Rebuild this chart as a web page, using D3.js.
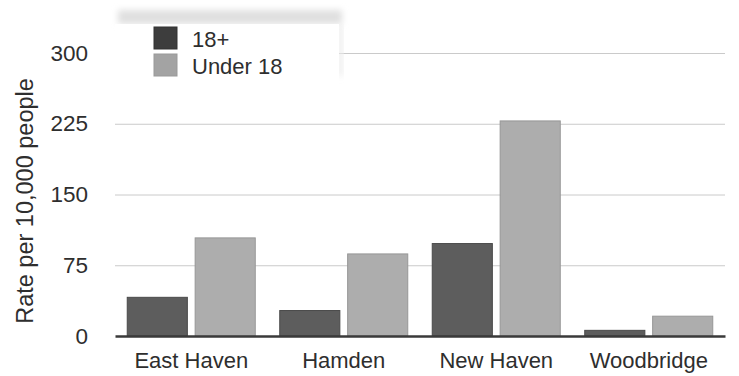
<!DOCTYPE html>
<html>
<head>
<meta charset="utf-8">
<script src="https://cdn.jsdelivr.net/npm/d3@7"></script>
<style>
  html, body { margin: 0; padding: 0; background: #fff; }
  svg { display: block; font-family: "Liberation Sans", Arial, Helvetica, sans-serif; }
</style>
</head>
<body>
<svg id="chart" width="739" height="376"></svg>
<script>
// Rates per 10,000 people by town and age group
const towns = ["East Haven", "Hamden", "New Haven", "Woodbridge"];
const groups = ["18+", "Under 18"];
const adultRates = [41, 27, 98, 6];
const youthRates = [104, 87, 228, 21];
const yTicks = [0, 75, 150, 225, 300];
const yTitle = "Rate per 10,000 people";

const colors = { "18+": "#5d5d5d", "Under 18": "#adadad" };
const strokes = { "18+": "#4a4a4a", "Under 18": "#979797" };
const textColor = "#2e2e2e";

const rows = towns.map((t, i) => ({ town: t, values: { "18+": adultRates[i], "Under 18": youthRates[i] } }));

const svg = d3.select("#chart");
const plotLeft = 115, plotRight = 725, plotTop = 53, plotBottom = 336;

const x0 = d3.scaleBand().domain(towns).range([plotLeft, plotRight]).paddingInner(0.154).paddingOuter(0.077);
const x1 = d3.scaleBand().domain(groups).range([0, x0.bandwidth()]).paddingInner(0.1);
const y = d3.scaleLinear().domain([0, 300]).range([plotBottom, plotTop]);

// Soft haze above the legend
const defs = svg.append("defs");
defs.append("filter").attr("id", "haze").attr("x", "-20%").attr("y", "-50%").attr("width", "140%").attr("height", "200%")
  .append("feGaussianBlur").attr("stdDeviation", 3);

// Gridlines
const grid = svg.append("g").attr("transform", `translate(${plotLeft},0)`)
  .call(d3.axisLeft(y).tickValues(yTicks.slice(1)).tickSize(-(plotRight - plotLeft)).tickFormat(""));
grid.select(".domain").remove();
grid.selectAll("line").attr("stroke", "#cacaca").attr("stroke-width", 1);

// Legend background (covers the grid in its corner)
svg.append("rect").attr("x", 118).attr("y", 10).attr("width", 224).attr("height", 14)
  .attr("fill", "#e0e0e0").attr("filter", "url(#haze)");
svg.append("rect").attr("x", 338).attr("y", 24).attr("width", 5).attr("height", 52)
  .attr("fill", "#ececec").attr("filter", "url(#haze)");
svg.append("rect").attr("x", plotLeft).attr("y", 24).attr("width", 224).attr("height", 62).attr("fill", "#fff");

// Bars
const g = svg.append("g");
const town = g.selectAll("g.town").data(rows).join("g")
  .attr("class", "town")
  .attr("transform", d => `translate(${x0(d.town)},0)`);
town.selectAll("rect").data(d => groups.map(k => ({ key: k, value: d.values[k] }))).join("rect")
  .attr("x", d => x1(d.key) + 0.5)
  .attr("width", x1.bandwidth() - 1)
  .attr("y", d => y(d.value))
  .attr("height", d => y(0) - y(d.value))
  .attr("fill", d => colors[d.key])
  .attr("stroke", d => strokes[d.key])
  .attr("stroke-width", 1);

// Y axis labels
const yAxis = svg.append("g").attr("transform", `translate(${plotLeft},0)`)
  .call(d3.axisLeft(y).tickValues(yTicks).tickSize(0).tickPadding(27));
yAxis.select(".domain").remove();
yAxis.selectAll("text").attr("font-size", 22.5).attr("fill", textColor).attr("font-family", null);

// X axis with dark baseline
const xAxis = svg.append("g").attr("transform", `translate(0,${plotBottom})`)
  .call(d3.axisBottom(x0).tickSize(0).tickSizeOuter(0));
xAxis.select(".domain").attr("stroke", "#3a3a3a").attr("stroke-width", 2.5);
xAxis.selectAll("text").attr("font-size", 22).attr("fill", textColor).attr("font-family", null)
  .attr("dy", null).attr("y", 32);

// Y axis title
svg.append("text")
  .attr("transform", "translate(33,201) rotate(-90)")
  .attr("text-anchor", "middle")
  .attr("font-size", 23.5)
  .attr("fill", textColor)
  .text(yTitle);

// Legend
const legend = svg.append("g");
const item = legend.selectAll("g").data(groups).join("g")
  .attr("transform", (d, i) => `translate(154,${27 + i * 27})`);
item.append("rect").attr("width", 23).attr("height", 22)
  .attr("fill", d => d === "18+" ? "#3d3d3d" : "#a3a3a3")
  .attr("stroke", d => d === "18+" ? "#333" : "#999");
item.append("text").attr("x", 38).attr("y", 20).attr("font-size", 22).attr("fill", textColor).text(d => d);
</script>
</body>
</html>
